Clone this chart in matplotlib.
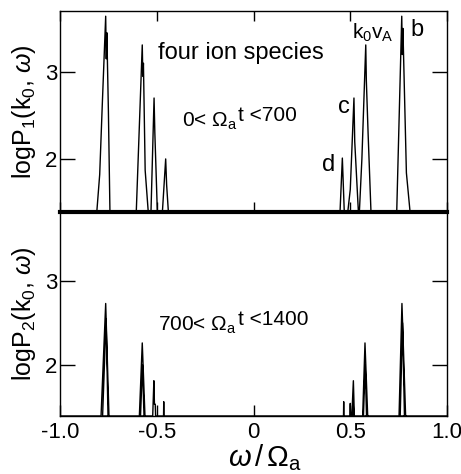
import numpy as np
import matplotlib.pyplot as plt

plt.rcParams['font.family'] = ['Liberation Sans', 'DejaVu Sans']
plt.rcParams['mathtext.fontset'] = 'custom'
plt.rcParams['mathtext.rm'] = 'Liberation Sans'
plt.rcParams['mathtext.it'] = 'Liberation Sans:italic'

base = 1.39

# spectrum 0 < t < 700 (polyline vertices)
omega1 = [-1.0, -0.810, -0.795, -0.782, -0.764, -0.761, -0.758, -0.750, -0.742,
          -0.606, -0.575, -0.572, -0.569, -0.560, -0.544,
          -0.530, -0.514, -0.510, -0.497,
          -0.471, -0.454, -0.449, -0.440,
          0.447, 0.459, 0.469,
          0.487, 0.500, 0.519, 0.523, 0.542,
          0.547, 0.560, 0.580, 0.583, 0.592, 0.607,
          0.740, 0.766, 0.769, 0.772, 0.790, 0.809, 1.0]
logp1 = [base, base, 1.82, 2.60, 3.64, 3.15, 3.45, 2.55, base,
         base, 3.31, 2.95, 3.10, 1.87, base,
         base, 2.70, 2.30, base,
         base, 2.00, 1.70, base,
         base, 2.01, base,
         base, 1.65, 2.70, 2.20, base,
         base, 2.00, 3.31, 2.90, 2.30, base,
         base, 3.64, 3.20, 3.50, 1.84, base, base]

# spectrum 700 < t < 1400
omega2 = [-1.0, -0.788, -0.764, -0.747, -0.752, -0.762, -0.780,
          -0.590, -0.575, -0.561, -0.566, -0.574, -0.584,
          -0.521, -0.519, -0.515, -0.512, -0.508, -0.506,
          -0.465, -0.464, -0.463,
          0.465, 0.466, 0.467,
          0.499, 0.500, 0.501,
          0.508, 0.516, 0.521, 0.518, 0.514, 0.511,
          0.564, 0.576, 0.590, 0.584, 0.577, 0.568,
          0.752, 0.767, 0.786, 0.780, 0.770, 0.758, 1.0]
logp2 = [base, base, 2.73, base, base, 2.55, base,
         base, 2.26, base, base, 2.00, base,
         base, 1.53, 1.81, 1.53, 1.53, base,
         base, 1.56, base,
         base, 1.56, base,
         base, 1.54, base,
         base, 1.81, base, base, 1.60, base,
         base, 2.26, base, base, 2.00, base,
         base, 2.73, base, base, 2.50, base, base]

fig = plt.figure(figsize=(4.61, 4.74), dpi=100)
ax2 = fig.add_axes([0.1302, 0.1224, 0.8395, 0.4304])
ax1 = fig.add_axes([0.1302, 0.5527, 0.8395, 0.4241])
ax1.patch.set_visible(False)

ax1.plot(omega1, logp1, color='black', lw=1.0, clip_on=False)
ax2.plot(omega2, logp2, color='black', lw=1.0)

ax1.set_xlim(-1, 1)
ax2.set_xlim(-1, 1)
ax1.set_ylim(base, 3.70)
ax2.set_ylim(base, 3.82)

for ax in (ax1, ax2):
    ax.set_xticks([-1.0, -0.5, 0, 0.5, 1.0])
    ax.set_yticks([2, 3])
    ax.tick_params(axis='y', direction='in', length=11, width=1, labelsize=16,
                   pad=2, right=True)
    for s in ax.spines.values():
        s.set_linewidth(1.0)

ax1.tick_params(axis='x', direction='in', length=7, width=1, top=True,
                labelbottom=False)
ax1.spines['bottom'].set_linewidth(3.0)
ax2.spines['top'].set_visible(False)
ax2.tick_params(axis='x', direction='in', length=8, width=1, labelsize=16, pad=4)
ax2.set_xticklabels(['-1.0', '-0.5', '0', '0.5', '1.0'])

ax1.set_ylabel(r'logP$_{\rm 1}$(k$_{\rm 0}$, $\omega$)', fontsize=18)
ax2.set_ylabel(r'logP$_{\rm 2}$(k$_{\rm 0}$, $\omega$)', fontsize=18)
ax1.yaxis.set_label_coords(-0.057, 0.5)
ax2.yaxis.set_label_coords(-0.057, 0.5)
ax2.set_xlabel(r'$\omega\,/\,\Omega_{\rm a}$', fontsize=21)
ax2.xaxis.set_label_coords(0.53, -0.13)

# annotations
ax1.text(-0.494, 3.22, 'four ion species', fontsize=17, va='center')
ax1.text(-0.085, 2.43, r'0< $\Omega_{\rm a}$', fontsize=15, ha='right', va='center')
ax1.text(-0.078, 2.50, 't <700', fontsize=15, ha='left', va='center')
ax2.text(-0.085, 2.47, r'700< $\Omega_{\rm a}$', fontsize=15, ha='right', va='center')
ax2.text(-0.078, 2.54, 't <1400', fontsize=15, ha='left', va='center')
ax1.text(0.509, 3.45, r'k$_{\rm 0}$v$_{\rm A}$', fontsize=15, va='center')
ax1.text(0.81, 3.48, 'b', fontsize=17, va='center')
ax1.text(0.437, 2.60, 'c', fontsize=17, va='center')
ax1.text(0.354, 1.93, 'd', fontsize=17, va='center')

fig.savefig('out.png', dpi=100)
